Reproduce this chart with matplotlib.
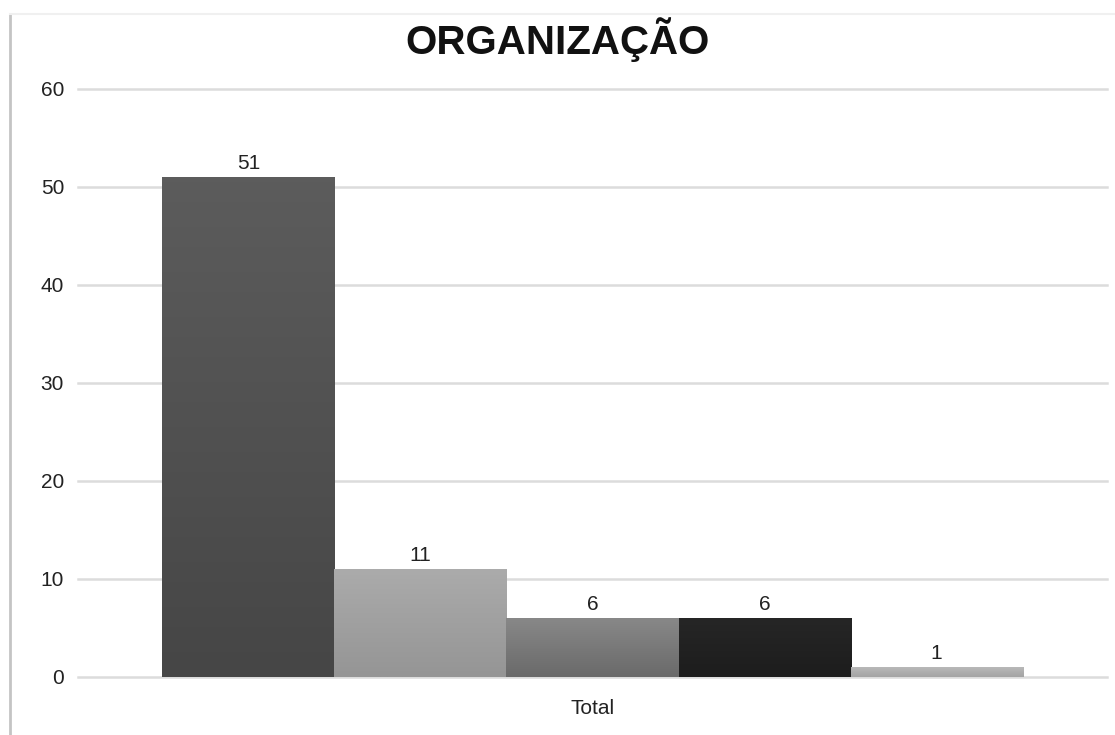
import numpy as np
import matplotlib
matplotlib.use("Agg")
import matplotlib.pyplot as plt
from matplotlib.colors import LinearSegmentedColormap
from matplotlib.lines import Line2D

plt.rcParams['font.family'] = ['Liberation Sans', 'DejaVu Sans']

title = "ORGANIZAÇÃO"
category = "Total"
values = [51, 11, 6, 6, 1]
# (top colour, bottom colour) of each bar's gradient
bar_colors = [("#5c5c5c", "#464646"),
              ("#ababab", "#959595"),
              ("#888888", "#6a6a6a"),
              ("#262626", "#1d1d1d"),
              ("#b8b8b8", "#a4a4a4")]
yticks = [0, 10, 20, 30, 40, 50, 60]

fig = plt.figure(figsize=(11.15, 7.35), dpi=100)
ax = fig.add_axes([78 / 1115, 58 / 735, 1029 / 1115, 588 / 735])

n = len(values)
width = 1.0 / n
xs = [-0.5 + width * (i + 0.5) for i in range(n)]

bars = ax.bar(xs, values, width=width, color="none", edgecolor="none", zorder=3)
for b, (top, bot) in zip(bars, bar_colors):
    cmap = LinearSegmentedColormap.from_list("g", [bot, top])
    x0, y0 = b.get_x(), b.get_y()
    x1, y1 = x0 + b.get_width(), y0 + b.get_height()
    grad = np.linspace(0, 1, 100).reshape(-1, 1)
    im = ax.imshow(grad, cmap=cmap, origin="lower", aspect="auto",
                   extent=[x0, x1, y0, y1], zorder=3)
    im.set_clip_path(b)

for x, v in zip(xs, values):
    ax.text(x, v + 0.4, str(v), ha="center", va="bottom", fontsize=15, color="#222222", zorder=4)

ax.set_xlim(-0.598, 0.598)
ax.set_ylim(0, 60)
ax.set_yticks(yticks)
ax.set_xticks([0])
ax.set_xticklabels([category])
ax.tick_params(axis="both", length=0, labelsize=15, colors="#222222")
ax.tick_params(axis="y", pad=10)
ax.tick_params(axis="x", pad=16)
ax.yaxis.grid(True, color="#dcdcdc", linewidth=1.8, zorder=0)
ax.set_axisbelow(True)
for gl in ax.get_ygridlines():
    gl.set_clip_on(False)
for s in ax.spines.values():
    s.set_visible(False)

fig.text(0.5, 1 - 40 / 735, title, ha="center", va="center",
         fontsize=29, fontweight="bold", color="#111111")

# frame edges of the pasted chart
fig.add_artist(Line2D([10 / 1115, 10 / 1115], [0, 1 - 14 / 735], color="#c4c4c4", linewidth=2))
fig.add_artist(Line2D([10 / 1115, 1], [1 - 14 / 735, 1 - 14 / 735], color="#f0f0f0", linewidth=1.5))

fig.savefig("out.png", dpi=100)
